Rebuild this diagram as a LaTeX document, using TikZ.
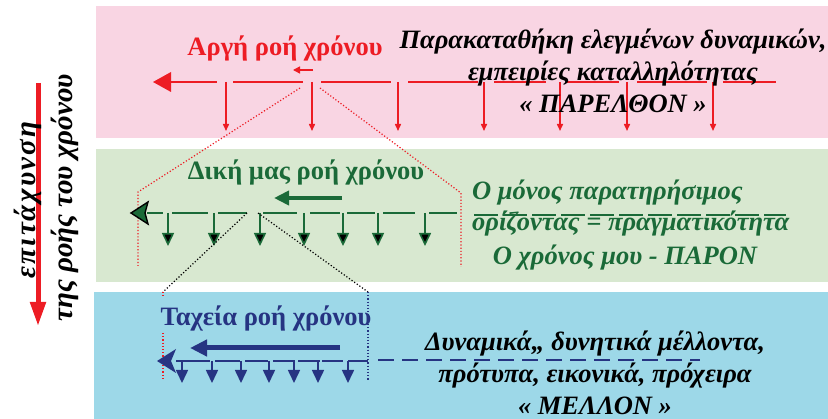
\documentclass[tikz,border=0pt]{standalone}
\usepackage{fontspec}
\setmainfont{Liberation Serif}
\usetikzlibrary{arrows.meta}
\definecolor{pinkbg}{RGB}{249,213,227}
\definecolor{greenbg}{RGB}{216,232,208}
\definecolor{bluebg}{RGB}{157,216,232}
\definecolor{myred}{RGB}{237,28,36}
\definecolor{dkgreen}{RGB}{26,106,56}
\definecolor{navyc}{RGB}{38,52,130}
\tikzset{
  lbl/.style={font=\fontsize{26.5}{30}\selectfont\bfseries, inner sep=0pt},
  desc/.style={font=\fontsize{26.5}{31.8}\selectfont\bfseries\itshape, inner sep=0pt, align=center},
  desc1/.style={font=\fontsize{26.5}{30}\selectfont\bfseries\itshape, inner sep=0pt},
  vert/.style={rotate=90, font=\fontsize{29}{32}\selectfont\bfseries\itshape, inner sep=0pt},
  redtick/.style={myred, line width=1.5pt, -{Triangle[length=7pt,width=6pt]}},
  greentick/.style={dkgreen, line width=1.6pt, -{Triangle[length=13pt,width=12pt,fill=black]}},
  bluetick/.style={navyc, line width=1.6pt, -{Triangle[length=13pt,width=12pt]}},
  reddot/.style={myred, line width=1.2pt, dotted},
  blackdot/.style={black, line width=1.2pt, dotted},
}
\begin{document}
\begin{tikzpicture}[x=1pt,y=-1pt]
\useasboundingbox (0,0) rectangle (828,419);
% panels
\fill[pinkbg] (96,6) rectangle (828,138);
\fill[greenbg] (96,149) rectangle (828,282);
\fill[bluebg] (94,292) rectangle (828,419);

% left side acceleration arrow and labels
\coordinate (accS) at (38,83);
\coordinate (accE) at (38,326);
\draw[myred, line width=5pt, -{Triangle[length=24pt,width=15pt]}] (accS) -- (accE);
\node[vert] (acc1) at (28,200) {\addfontfeature{LetterSpace=8}επιτάχυνση};
\node[vert] (acc2) at (65,198) {της ροής του χρόνου};

% ---------------- slow (past) ----------------
\node[lbl, text=myred] (slow) at (285,48) {Αργή ροή χρόνου};
\coordinate (sa1) at (313,70); \coordinate (sa2) at (293,70);
\draw[myred, line width=1.5pt, -{Triangle[length=7pt,width=7pt]}] (sa1) -- (sa2);
\foreach \a/\b in {170/217,233/303,321/391,408/478,494/546,566/619,637/707,723/776}
  \draw[myred, line width=2pt] (\a,82) -- (\b,82);
\coordinate (rtip) at (153,82);
\fill[myred] (rtip) -- (171,72) -- (171,92) -- cycle;
\foreach \x in {226,312,398,484,560,627,713}
  \draw[redtick] (\x,82) -- (\x,131);
\node[desc] (past) at (613,71) {Παρακαταθήκη ελεγμένων δυναμικών,\\εμπειρίες καταλληλότητας\\« ΠΑΡΕΛΘΟΝ »};

% dotted red projection
\coordinate (pl0) at (300,88); \coordinate (pl1) at (138,192); \coordinate (pl2) at (138,266);
\coordinate (pr0) at (320,88); \coordinate (pr1) at (461,193); \coordinate (pr2) at (461,267);
\draw[reddot] (pl0) -- (pl1) -- (pl2);
\draw[reddot] (pr0) -- (pr1) -- (pr2);

% ---------------- own (present) ----------------
\node[lbl, text=dkgreen] (own) at (306,172) {Δική μας ροή χρόνου};
\coordinate (ga1) at (342,198); \coordinate (ga2) at (274,198);
\draw[dkgreen, line width=4pt, -{Triangle[length=15pt,width=14pt]}] (ga1) -- (ga2);
\foreach \a/\b in {147/163,172/208,218/247,263/297,310/340,347/375,383/415,429/457}
  \draw[dkgreen, line width=2pt] (\a,213) -- (\b,213);
\draw[dkgreen, line width=1.6pt, dash pattern=on 24pt off 5pt] (474,215) -- (786,215);
\coordinate (gtip) at (131,213);
\filldraw[draw=black, fill=dkgreen, line width=1.4pt] (gtip) -- (148,202) -- (145,213) -- (148,224) -- cycle;
\foreach \x in {168,214,260,304,343,378,425}
  \draw[greentick] (\x,213) -- (\x,246);
\node[desc1, text=dkgreen, anchor=west] (pres1) at (472,193) {Ο μόνος παρατηρήσιμος};
\node[desc1, text=dkgreen, anchor=west] (pres2) at (472,224) {ορίζοντας = πραγματικότητα};
\node[desc1, text=dkgreen] (pres3) at (625,258) {Ο χρόνος μου - ΠΑΡΟΝ};

% black dotted projection
\coordinate (bl0) at (247,213); \coordinate (bl1) at (163,292);
\coordinate (br0) at (258,213); \coordinate (br1) at (368,292); \coordinate (br2) at (368,381);
\draw[blackdot] (bl0) -- (bl1);
\draw[blackdot] (br0) -- (br1);
\draw[navyc, line width=1.2pt, dotted] (br1) -- (br2);
\coordinate (rv1) at (163,298); \coordinate (rv2) at (163,333); \coordinate (rv3) at (163,379);
\draw[reddot] (bl1) -- (rv1);
\draw[reddot] (rv2) -- (rv3);

% ---------------- fast (future) ----------------
\node[lbl, text=navyc] (fast) at (266,318) {Ταχεία ροή χρόνου};
\coordinate (fa1) at (340,348); \coordinate (fa2) at (190,348);
\draw[navyc, line width=5pt, -{Triangle[length=17pt,width=16pt]}] (fa1) -- (fa2);
\foreach \a/\b in {176/210,215/240,245/268,273/295,298/320,322/343,348/368}
  \draw[navyc, line width=2pt] (\a,361) -- (\b,361);
\draw[navyc, line width=1.6pt, dash pattern=on 16pt off 8pt] (378,360) -- (700,360);
\coordinate (btip) at (157,361);
\fill[navyc] (btip) -- (176,349) -- (171,361) -- (176,373) -- cycle;
\foreach \x in {182,212,241,269,294,318,348}
  \draw[bluetick] (\x,361) -- (\x,383);
\node[desc] (future) at (595,373) {Δυναμικά,, δυνητικά μέλλοντα,\\πρότυπα, εικονικά, πρόχειρα\\« ΜΕΛΛΟΝ »};
\end{tikzpicture}
\end{document}
